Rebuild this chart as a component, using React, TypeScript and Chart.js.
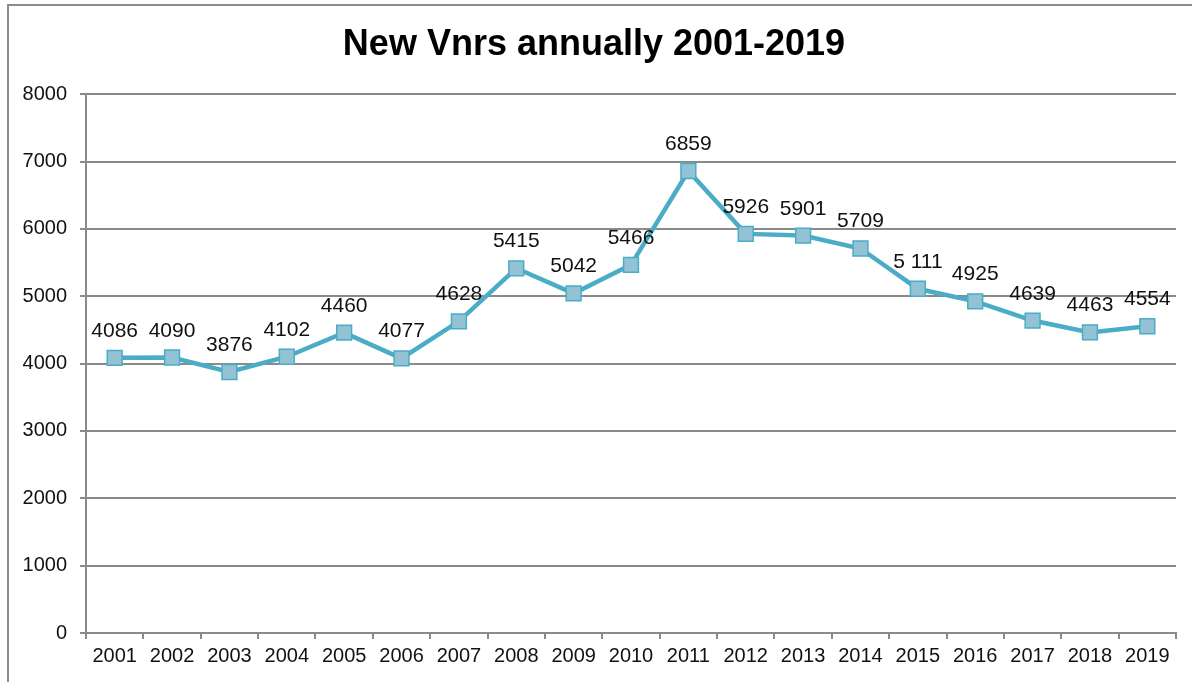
import React, { useEffect, useRef } from "react";
import { Chart, registerables } from "chart.js";

Chart.register(...registerables);

const years = ["2001","2002","2003","2004","2005","2006","2007","2008","2009","2010","2011","2012","2013","2014","2015","2016","2017","2018","2019"];
const newVnrs = [4086,4090,3876,4102,4460,4077,4628,5415,5042,5466,6859,5926,5901,5709,5111,4925,4639,4463,4554];
const pointLabels = ["4086","4090","3876","4102","4460","4077","4628","5415","5042","5466","6859","5926","5901","5709","5 111","4925","4639","4463","4554"];
const yTicks = [0,1000,2000,3000,4000,5000,6000,7000,8000];
const chartTitle = "New Vnrs annually 2001-2019";

const FONT = "'Liberation Sans', Arial, sans-serif";

const dataLabelPlugin = {
  id: "dataLabels",
  afterDatasetsDraw(chart: any) {
    const ctx = chart.ctx;
    const meta = chart.getDatasetMeta(0);
    ctx.save();
    ctx.font = `21px ${FONT}`;
    ctx.fillStyle = "#111";
    ctx.textAlign = "center";
    ctx.textBaseline = "alphabetic";
    meta.data.forEach((pt: any, i: number) => {
      ctx.fillText(pointLabels[i], pt.x, pt.y - 21);
    });
    ctx.restore();
  },
};

export default function App() {
  const ref = useRef<HTMLCanvasElement | null>(null);
  useEffect(() => {
    if (!ref.current) return;
    const chart = new Chart(ref.current, {
      type: "line",
      data: {
        labels: years,
        datasets: [
          {
            data: newVnrs,
            borderColor: "#4BACC6",
            borderWidth: 4.5,
            pointStyle: "rect",
            pointRadius: 10.5,
            pointHoverRadius: 10.5,
            pointBackgroundColor: "#93C2D5",
            pointBorderColor: "#4BACC6",
            pointBorderWidth: 1.5,
            tension: 0,
          },
        ],
      },
      options: {
        responsive: false,
        animation: false,
        events: [],
        layout: { padding: { left: 12, right: 16, top: 0, bottom: 9 } },
        plugins: {
          legend: { display: false },
          tooltip: { enabled: false },
          title: {
            display: true,
            text: chartTitle,
            color: "#000",
            font: { family: FONT, size: 36, weight: "bold" },
            padding: { top: 23, bottom: 28 },
          },
        },
        scales: {
          x: {
            type: "category",
            offset: true,
            grid: {
              offset: true,
              drawOnChartArea: false,
              drawTicks: true,
              tickLength: 6,
              color: "#8a8a8a",
              lineWidth: 2,
            },
            border: { display: true, color: "#8a8a8a", width: 2 },
            ticks: {
              color: "#111",
              font: { family: FONT, size: 20 },
              padding: 5,
              maxRotation: 0,
              autoSkip: false,
            },
            afterFit: (s: any) => {
              s.height = 40;
            },
          },
          y: {
            min: 0,
            max: 8000,
            afterBuildTicks: (s: any) => {
              s.ticks = yTicks.map((v) => ({ value: v }));
            },
            grid: {
              color: "#8a8a8a",
              lineWidth: 2,
              drawTicks: true,
              tickLength: 6,
            },
            border: { display: true, color: "#8a8a8a", width: 2 },
            ticks: {
              color: "#111",
              font: { family: FONT, size: 20 },
              padding: 13,
              callback: (v: any) => String(v),
            },
            afterFit: (s: any) => {
              s.width = 74;
            },
          },
        },
      },
      plugins: [dataLabelPlugin],
    });
    return () => chart.destroy();
  }, []);

  return (
    <div
      style={{
        position: "fixed",
        left: 0,
        top: 0,
        width: 1192,
        height: 682,
        overflow: "hidden",
        background: "#fff",
      }}
    >
      <div
        style={{
          position: "absolute",
          left: 7,
          top: 4,
          width: 1300,
          height: 800,
          border: "2px solid #8c8c8c",
        }}
      />
      <canvas
        ref={ref}
        width={1192}
        height={682}
        style={{ position: "absolute", left: 0, top: 0, width: 1192, height: 682 }}
      />
    </div>
  );
}
